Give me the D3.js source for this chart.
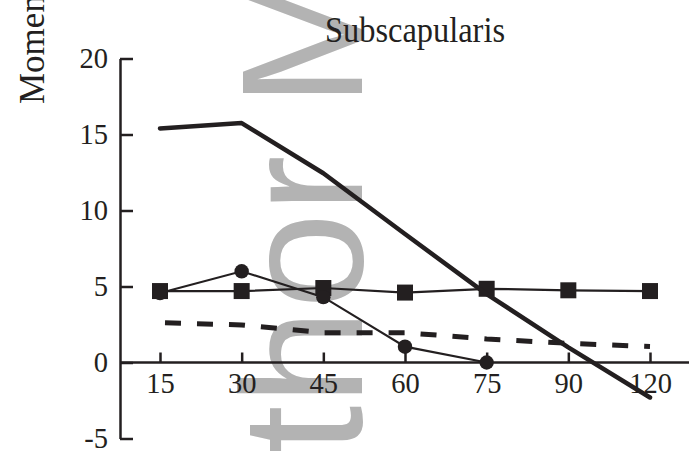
<!DOCTYPE html>
<html>
<head>
<meta charset="utf-8">
<script src="https://cdn.jsdelivr.net/npm/d3@7"></script>
<style>
  html, body { margin: 0; padding: 0; background: #fff; }
  svg { display: block; }
</style>
</head>
<body>
<svg id="chart" width="689" height="458"></svg>
<script>
// Shoulder abduction angles (degrees)
const angles = ["15", "30", "45", "60", "75", "90", "120"];

// Moment arm series for subscapularis
const thickSolid = [15.4, 15.75, 12.45, 8.45, 4.5, 1.0, -2.3];
const squares    = [4.7, 4.7, 4.9, 4.6, 4.85, 4.75, 4.7];
const circles    = [4.57, 6.0, 4.3, 1.04, 0.0];           // 15..75 only
const dashed     = [2.62, 2.47, 1.96, 1.96, 1.55, 1.26, 1.05];

const yTicks = [-5, 0, 5, 10, 15, 20];

const ink = "#231f20";
const serif = "'Liberation Serif', 'Times New Roman', serif";

const svg = d3.select("#chart");

// Repository watermark, drawn beneath the plot
svg.append("text")
  .attr("transform", "translate(362,665) rotate(-90)")
  .attr("font-family", "'Liberation Sans', Arial, sans-serif")
  .attr("font-size", 173)
  .attr("fill", "#b3b3b3")
  .text("Author Manuscript");

const x = d3.scalePoint().domain(angles).range([160, 650]);
const y = d3.scaleLinear().domain([-5, 20]).range([438.5, 58.5]);
const axisX = 120;

// Y axis: ticks point inward, labels on the left (plain hyphen for negatives)
const gy = svg.append("g")
  .attr("transform", `translate(${axisX},0)`)
  .call(d3.axisLeft(y).tickValues(yTicks).tickFormat(d => String(d))
    .tickSizeInner(-13).tickSizeOuter(0).tickPadding(12));
gy.select(".domain").attr("stroke", ink).attr("stroke-width", 2.5);
gy.selectAll(".tick line").attr("stroke", ink).attr("stroke-width", 2.5);
gy.selectAll(".tick text")
  .attr("font-family", serif).attr("font-size", 28.5).attr("fill", ink);

// X axis along zero, ticks pointing up
const gx = svg.append("g")
  .attr("transform", `translate(0,${y(0)})`)
  .call(d3.axisBottom(x).tickSizeInner(-10).tickSizeOuter(0).tickPadding(10));
gx.select(".domain").remove();
gx.insert("line", ":first-child")
  .attr("x1", axisX).attr("x2", 689)
  .attr("stroke", ink).attr("stroke-width", 2.5);
gx.selectAll(".tick line").attr("stroke", ink).attr("stroke-width", 2.5);
gx.selectAll(".tick text")
  .attr("font-family", serif).attr("font-size", 28.5).attr("fill", ink);

const line = d3.line()
  .x((d, i) => x(angles[i]))
  .y(d => y(d));

// Dashed series
svg.append("path")
  .attr("d", line(dashed))
  .attr("fill", "none").attr("stroke", ink)
  .attr("stroke-width", 5)
  .attr("stroke-dasharray", "16,16")
  .attr("stroke-dashoffset", 27);

// Square series
svg.append("path")
  .attr("d", line(squares))
  .attr("fill", "none").attr("stroke", ink).attr("stroke-width", 2.2);
svg.selectAll("rect.sq")
  .data(squares)
  .join("rect")
  .attr("class", "sq")
  .attr("x", (d, i) => x(angles[i]) - 8)
  .attr("y", d => y(d) - 8)
  .attr("width", 16).attr("height", 16)
  .attr("fill", ink);

// Circle series
svg.append("path")
  .attr("d", line(circles))
  .attr("fill", "none").attr("stroke", ink).attr("stroke-width", 2.2);
svg.selectAll("circle.ci")
  .data(circles)
  .join("circle")
  .attr("class", "ci")
  .attr("cx", (d, i) => x(angles[i]))
  .attr("cy", d => y(d))
  .attr("r", 7.2)
  .attr("fill", ink);

// Thick solid series
svg.append("path")
  .attr("d", line(thickSolid))
  .attr("fill", "none").attr("stroke", ink)
  .attr("stroke-width", 4.5)
  .attr("stroke-linejoin", "round")
  .attr("stroke-linecap", "round");

// Title
svg.append("text")
  .attr("x", 325).attr("y", 41.5)
  .attr("font-family", serif).attr("font-size", 36)
  .attr("textLength", 180).attr("lengthAdjust", "spacingAndGlyphs")
  .attr("fill", ink)
  .text("Subscapularis");

// Y axis title
svg.append("text")
  .attr("transform", "translate(44,104) rotate(-90)")
  .attr("font-family", serif).attr("font-size", 35)
  .attr("fill", ink)
  .text("Moment Arm (mm)");
</script>
</body>
</html>
